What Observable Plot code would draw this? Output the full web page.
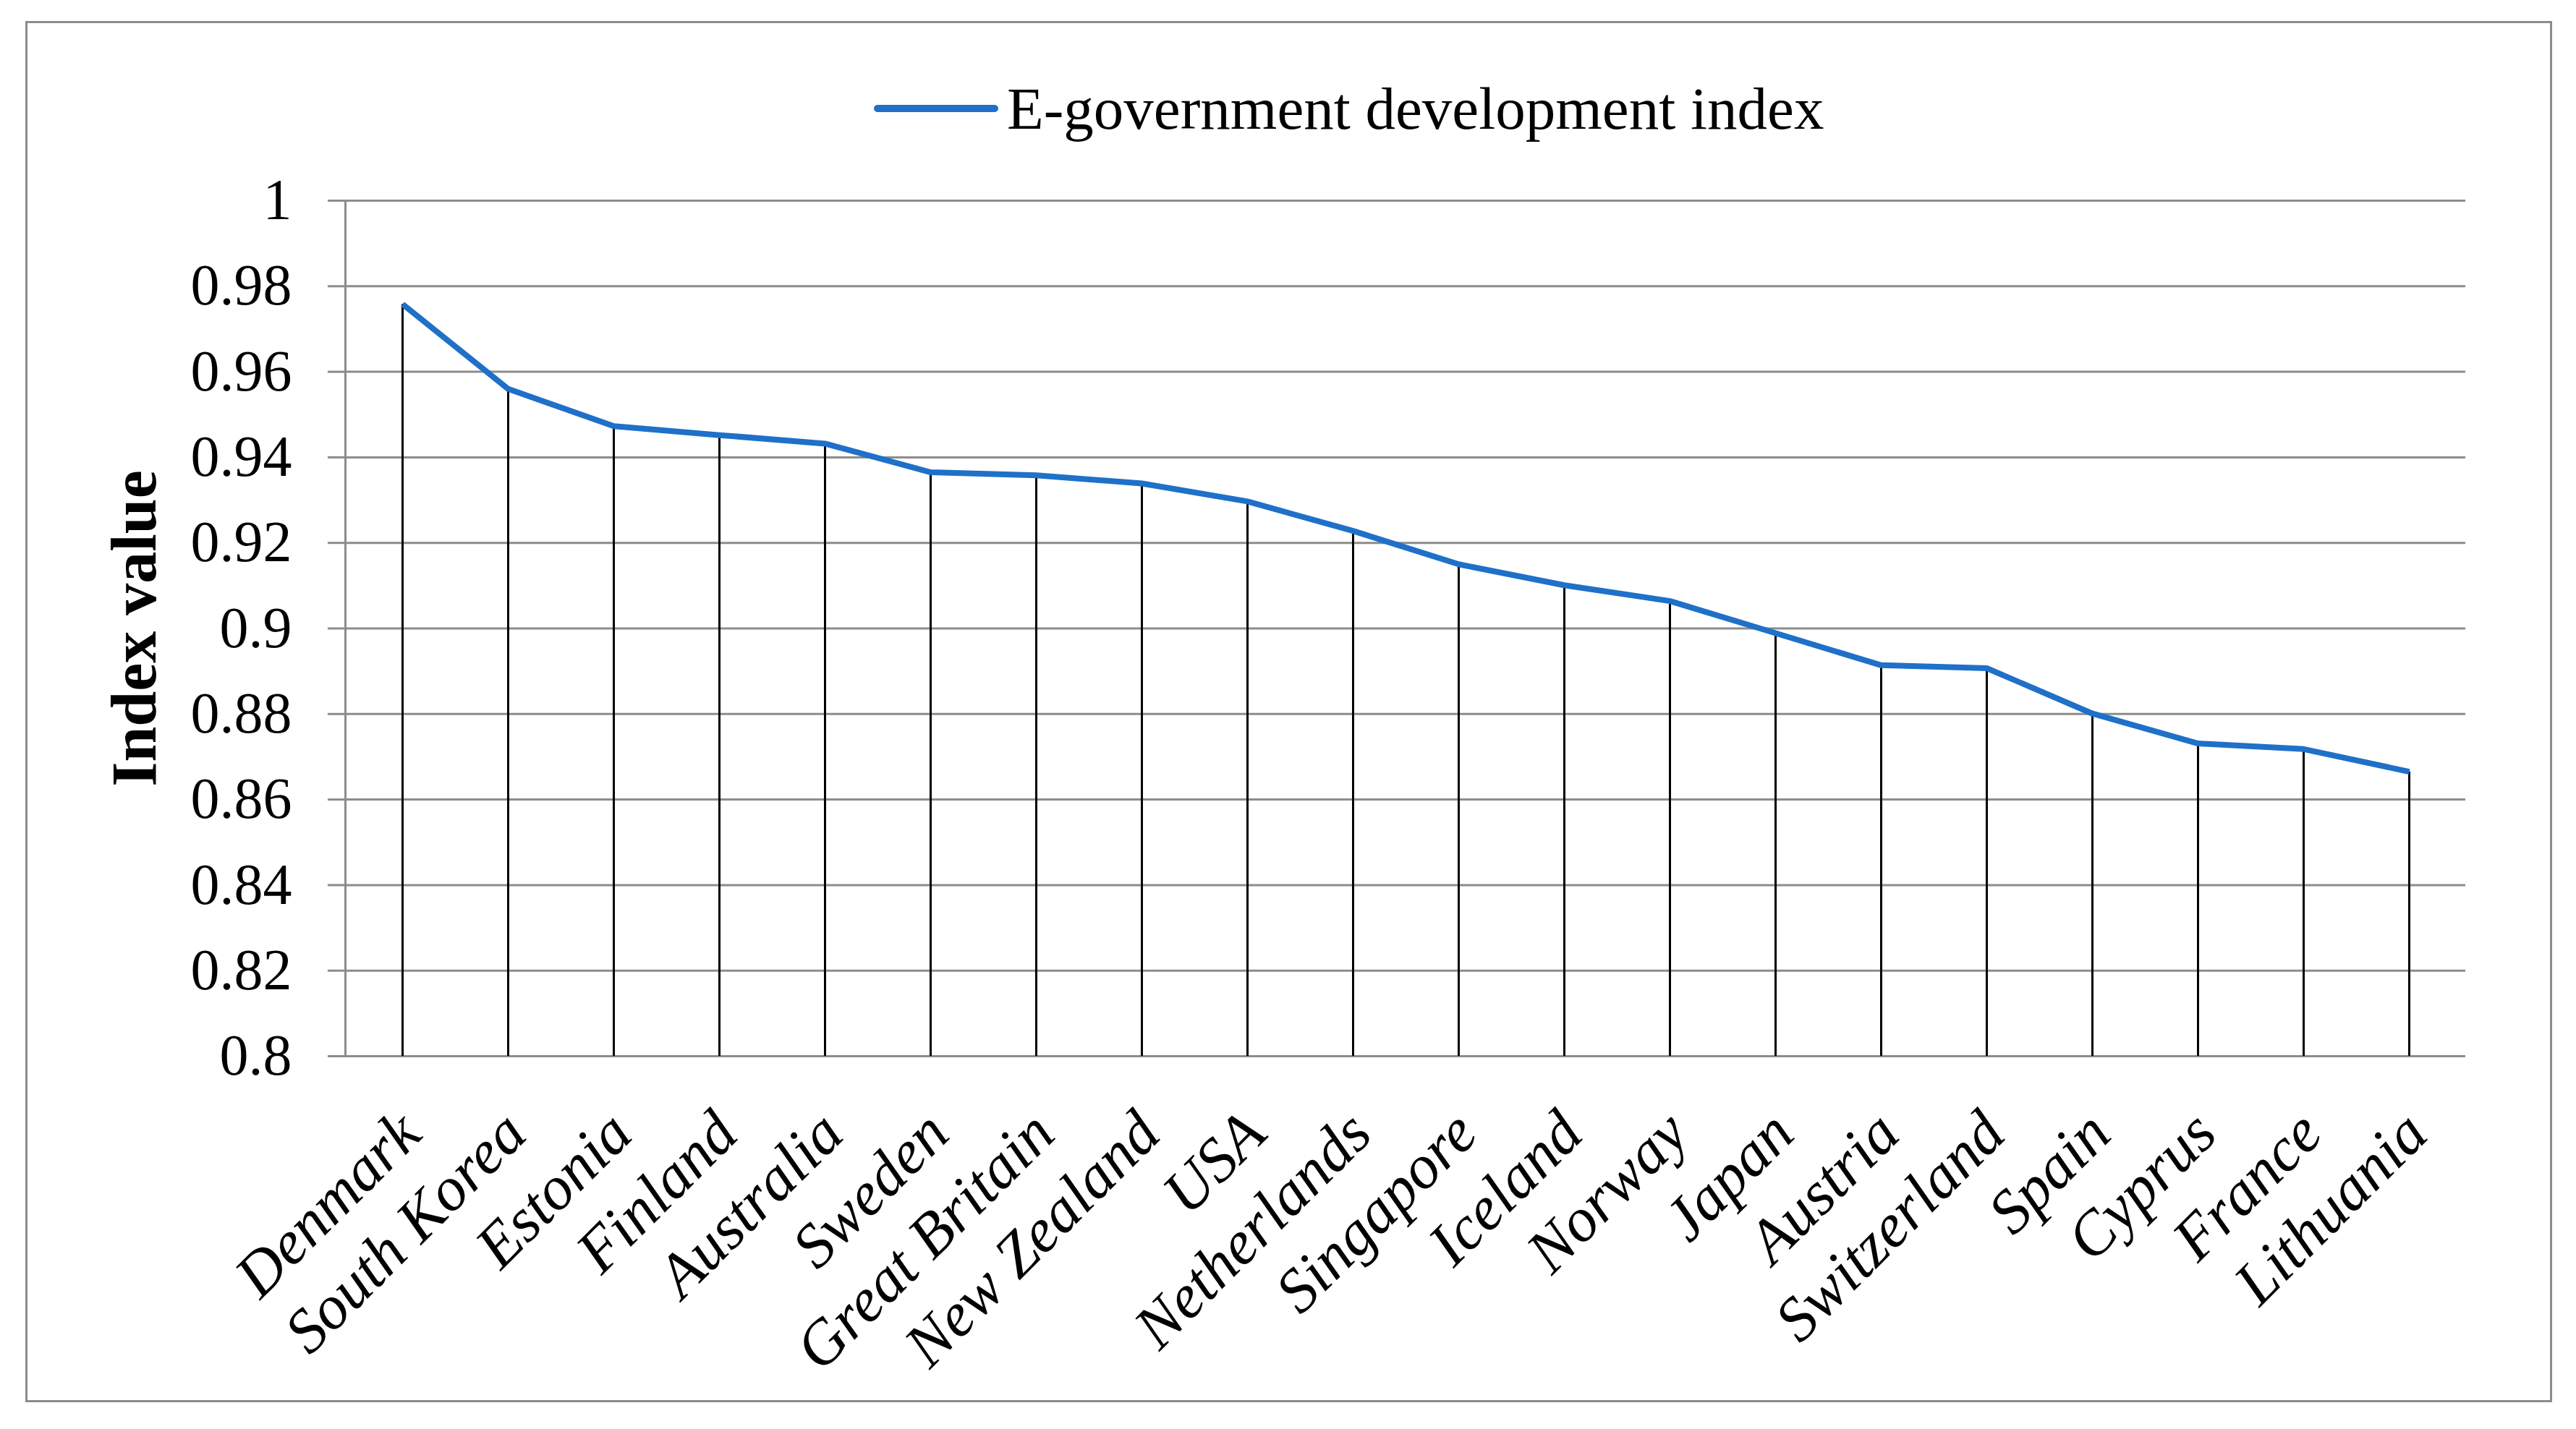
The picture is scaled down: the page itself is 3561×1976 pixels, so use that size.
<!DOCTYPE html>
<html>
<head>
<meta charset="utf-8">
<script src="https://cdn.jsdelivr.net/npm/d3@7"></script>
<script src="https://cdn.jsdelivr.net/npm/@observablehq/plot@0.6"></script>
<style>
  html, body { margin: 0; padding: 0; background: #fff; }
  #wrap { position: relative; width: 3561px; height: 1976px; overflow: hidden; font-family: "Liberation Serif", "Times New Roman", serif; }
  #border { position: absolute; left: 35px; top: 29px; width: 3493px; height: 1910px; border: 3px solid #8c8c8c; box-sizing: border-box; }
  #legend { position: absolute; left: 1208px; top: 100px; height: 100px; display: flex; align-items: center; font-size: 83px; color: #000; white-space: nowrap; }
  #legend .sw { width: 172px; height: 10px; background: #1F70C8; border-radius: 5px; margin-right: 12px; }
  #chart { position: absolute; left: 0; top: 0; }
</style>
</head>
<body>
<div id="wrap">
  <div id="border"></div>
  <div id="legend"><span class="sw"></span><span id="legtext"></span></div>
  <div id="chart"></div>
</div>
<script>
const countries = ["Denmark","South Korea","Estonia","Finland","Australia","Sweden","Great Britain","New Zealand","USA","Netherlands","Singapore","Iceland","Norway","Japan","Austria","Switzerland","Spain","Cyprus","France","Lithuania"];
const egdi = [0.9758,0.9560,0.9473,0.9452,0.9432,0.9365,0.9358,0.9339,0.9297,0.9228,0.9150,0.9101,0.9064,0.8989,0.8914,0.8907,0.8801,0.8731,0.8718,0.8665];
const yTicks = [0.8,0.82,0.84,0.86,0.88,0.9,0.92,0.94,0.96,0.98,1];
const seriesName = "E-government development index";
const yTitle = "Index value";

document.getElementById("legtext").textContent = seriesName;

const data = countries.map((c, i) => ({country: c, value: egdi[i]}));

const chart = Plot.plot({
  width: 3561,
  height: 1976,
  marginLeft: 477,
  marginRight: 153,
  marginTop: 277,
  marginBottom: 516,
  style: {fontFamily: "Liberation Serif, Times New Roman, serif", background: "transparent", overflow: "visible"},
  x: {type: "point", domain: countries, padding: 0.5, align: 0.5},
  y: {domain: [0.8, 1]},
  marks: [
    Plot.ruleY(yTicks, {stroke: "#8c8c8c", strokeWidth: 3, strokeOpacity: 1}),
    Plot.frame({anchor: "left", stroke: "#8c8c8c", strokeWidth: 3}),
    Plot.axisY({
      ticks: yTicks,
      tickSize: 24,
      tickPadding: 50,
      tickFormat: d => String(+d.toFixed(2)),
      fontSize: 80,
      stroke: "#8c8c8c",
      strokeWidth: 3,
      color: "#000",
      label: yTitle,
      labelAnchor: "center",
      labelArrow: "none",
      labelOffset: 325,
      fontWeight: "normal"
    }),
    Plot.axisX({
      tickSize: 0,
      tickRotate: -45,
      tickPadding: 92,
      dx: 10,
      fontSize: 86,
      fontStyle: "italic",
      color: "#000",
      label: null
    }),
    Plot.ruleX(data, {x: "country", y1: 0.8, y2: "value", stroke: "#000", strokeWidth: 3}),
    Plot.line(data, {x: "country", y: "value", stroke: "#1F70C8", strokeWidth: 8, strokeLinejoin: "round", strokeLinecap: "butt"})
  ]
});
document.getElementById("chart").appendChild(chart);
// bold y-axis title
chart.querySelectorAll("text").forEach(t => { if (t.textContent === yTitle) { t.setAttribute("font-weight", "bold"); t.style.fontSize = "88px"; } });
</script>
</body>
</html>
